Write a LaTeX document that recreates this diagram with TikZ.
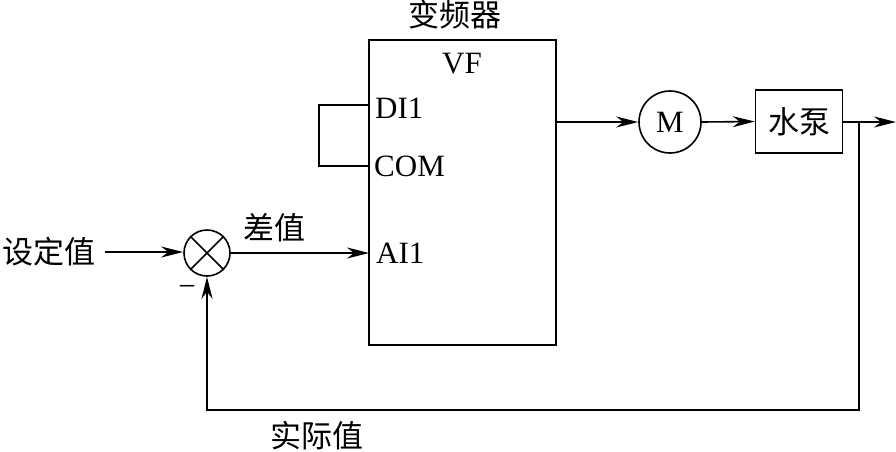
\documentclass[tikz,border=0pt]{standalone}
\usepackage{fontspec}
\usepackage{xcolor}
\setmainfont{Liberation Serif}
\newfontfamily\cjk{Noto Sans CJK SC}
\usetikzlibrary{arrows.meta,calc,positioning}
\tikzset{
  sig/.style={-{Stealth[length=22pt,width=11pt,inset=7pt]},line width=1.6pt},
  wire/.style={line width=1.6pt},
  lbl/.style={inner sep=0pt,font=\fontsize{31pt}{34pt}\selectfont},
  cjklbl/.style={inner sep=0pt,font=\fontsize{31pt}{34pt}\selectfont\cjk},
  unit/.style={draw,line width=1.6pt,inner sep=0pt},
}
\begin{document}
\begin{tikzpicture}[x=1pt,y=-1pt]
\useasboundingbox (0,0) rectangle (896,451);
\node[unit,minimum width=187pt,minimum height=305pt] (vf) at (462.5,192.5) {};
\node[cjklbl] (vfname) at (455,15) {变频器};
\node[lbl] (vftext) at (462,64) {VF};
\node[lbl,anchor=west] (di) at (375,108) {DI1};
\node[lbl,anchor=west] (com) at (374,166) {COM};
\node[lbl,anchor=west] (ai) at (376,253) {AI1};
\coordinate (dileft) at (369,105);
\coordinate (comleft) at (369,166);
\draw[wire] (dileft) -- (319,105) -- (319,166) -- (comleft);
\node[unit,circle,minimum size=46pt] (sum) at (207,253) {};
\draw[wire] (sum.45) -- (sum.225);
\draw[wire] (sum.135) -- (sum.315);
\node[cjklbl] (setval) at (49,252) {设定值};
\node[cjklbl] (diffval) at (274,228) {差值};
\node[lbl] (minus) at (187,291) {−};
\node[unit,circle,minimum size=62pt,font=\fontsize{31pt}{34pt}\selectfont] (motor) at (670,122) {M};
\node[unit,minimum width=87pt,minimum height=63pt,font=\fontsize{31pt}{34pt}\selectfont\cjk] (pump) at (799,121.5) {水泵};
\node[cjklbl] (actual) at (317,436) {实际值};
\coordinate (setout) at (105,252);
\coordinate (vfout) at (556,122);
\coordinate (pumpout) at (896,122);
\coordinate (tap) at (859,122);
\coordinate (aiin) at (369,253);
\draw[sig] (setout) -- (sum.west |- setout);
\draw[sig] (sum.east) -- (aiin);
\draw[sig] (vfout) -- (motor.west);
\draw[sig] (motor.east) -- (pump.west);
\draw[sig] (pump.east |- pumpout) -- (pumpout);
\draw[sig] (tap) -- (859,410) -- (207,410) -- (sum.south);
\end{tikzpicture}
\end{document}
